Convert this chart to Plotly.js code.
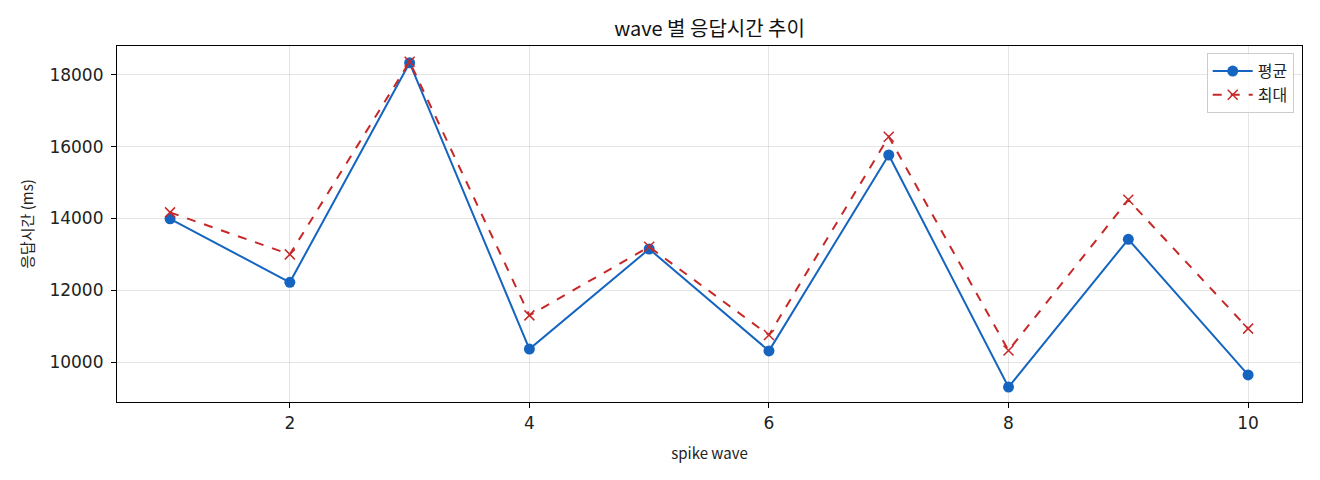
<!DOCTYPE html>
<html>
<head>
<meta charset="utf-8">
<script src="https://cdn.plot.ly/plotly-3.0.1.min.js"></script>
<style>
  html, body { margin: 0; padding: 0; background: #fff; }
  #chart { width: 1320px; height: 480px; }
</style>
</head>
<body>
<div id="chart"></div>
<script>
// wave 번호
var waves = [1, 2, 3, 4, 5, 6, 7, 8, 9, 10];
// 평균 응답시간 (ms)
var avgMs = [13990, 12220, 18340, 10360, 13150, 10310, 15770, 9300, 13420, 9640];
// 최대 응답시간 (ms)
var maxMs = [14170, 13000, 18370, 11300, 13210, 10750, 16280, 10320, 14520, 10930];

var FONT = "'Noto Sans CJK KR', 'Noto Sans', sans-serif";
var TICKFONT = "'DejaVu Sans', sans-serif";

var data = [
  {
    x: waves,
    y: avgMs,
    name: "평균",
    type: "scatter",
    mode: "lines+markers",
    line: {color: "#1565C0", width: 2},
    marker: {color: "#1565C0", size: 11, symbol: "circle"}
  },
  {
    x: waves,
    y: maxMs,
    name: "최대",
    type: "scatter",
    mode: "lines+markers",
    line: {color: "#C62828", width: 2, dash: "dash"},
    marker: {color: "#C62828", size: 10, symbol: "x-thin-open", line: {color: "#C62828", width: 1.5}}
  }
];

var layout = {
  width: 1320,
  height: 480,
  margin: {l: 117, r: 18, t: 46, b: 78},
  paper_bgcolor: "white",
  plot_bgcolor: "white",
  font: {family: FONT, size: 15, color: "#222"},
  title: {
    text: "wave 별 응답시간 추이",
    font: {family: FONT, size: 20, color: "#111"},
    xref: "paper",
    x: 0.5,
    xanchor: "center",
    y: 0.955,
    yanchor: "top"
  },
  xaxis: {
    title: {text: "spike wave", font: {family: FONT, size: 15}, standoff: 16},
    range: [0.557, 10.45],
    tickvals: [2, 4, 6, 8, 10],
    tickfont: {family: TICKFONT, size: 17, color: "#222"},
    ticks: "outside",
    ticklen: 5,
    tickcolor: "#000",
    showline: true,
    linecolor: "#000",
    linewidth: 1.2,
    mirror: true,
    showgrid: true,
    gridcolor: "rgba(0,0,0,0.1)",
    zeroline: false
  },
  yaxis: {
    title: {text: "응답시간 (ms)", font: {family: FONT, size: 15}, standoff: 12},
    range: [8885, 18808],
    tickvals: [10000, 12000, 14000, 16000, 18000],
    tickformat: "d",
    tickfont: {family: TICKFONT, size: 17, color: "#222"},
    ticklabelstandoff: 4,
    ticks: "outside",
    ticklen: 5,
    tickcolor: "#000",
    showline: true,
    linecolor: "#000",
    linewidth: 1.2,
    mirror: true,
    showgrid: true,
    gridcolor: "rgba(0,0,0,0.1)",
    zeroline: false
  },
  legend: {
    x: 0.993,
    xanchor: "right",
    y: 0.98,
    yanchor: "top",
    bgcolor: "rgba(255,255,255,0.8)",
    bordercolor: "#ccc",
    borderwidth: 1,
    itemwidth: 40,
    tracegroupgap: 4,
    font: {family: FONT, size: 16}
  },
  showlegend: true
};

Plotly.newPlot("chart", data, layout, {displayModeBar: false});
</script>
</body>
</html>
